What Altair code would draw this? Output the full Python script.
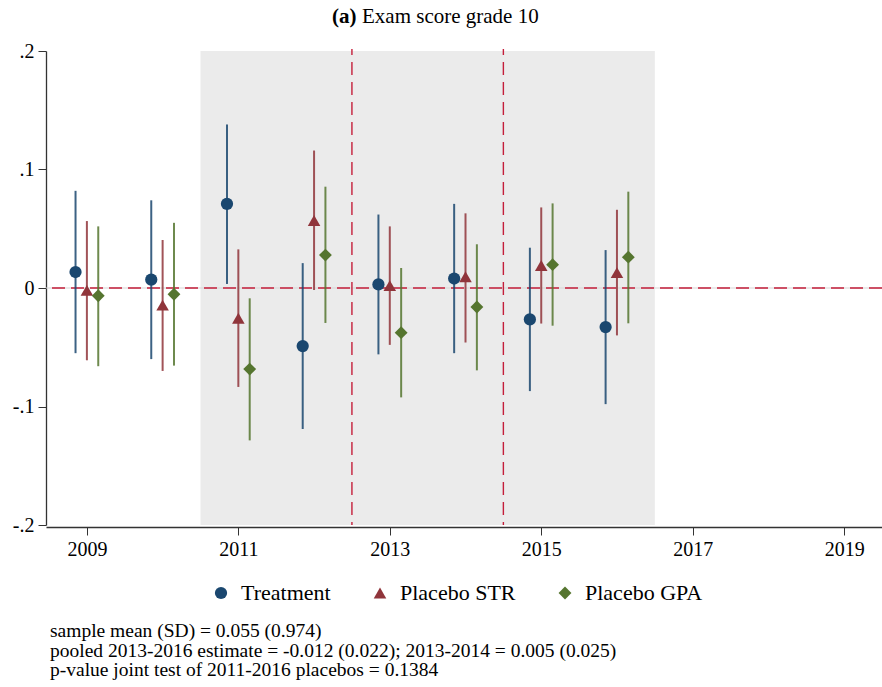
import altair as alt
import pandas as pd

# ---------------- data ----------------
years = [2009, 2010, 2011, 2012, 2013, 2014, 2015, 2016]
series_names = ["Treatment", "Placebo STR", "Placebo GPA"]
series_offsets = [-0.15, 0.0, 0.15]
series_colors = ["#1a476f", "#90353b", "#55752f"]
series_shapes = ["circle", "triangle-up", "diamond"]
series_sizes = [150, 165, 210]

treat_est = [0.0135, 0.007, 0.071, -0.049, 0.003, 0.008, -0.0265, -0.033]
treat_lo = [-0.055, -0.060, 0.0034, -0.119, -0.056, -0.055, -0.087, -0.098]
treat_hi = [0.082, 0.074, 0.138, 0.021, 0.062, 0.071, 0.034, 0.032]

str_est = [-0.002, -0.0145, -0.0255, 0.057, 0.002, 0.0095, 0.019, 0.013]
str_lo = [-0.061, -0.070, -0.0835, -0.0017, -0.048, -0.046, -0.030, -0.040]
str_hi = [0.0565, 0.0405, 0.0326, 0.116, 0.052, 0.063, 0.068, 0.066]

gpa_est = [-0.0065, -0.0053, -0.0684, 0.0278, -0.0377, -0.016, 0.0197, 0.026]
gpa_lo = [-0.066, -0.0655, -0.1286, -0.0295, -0.0923, -0.0695, -0.0318, -0.0298]
gpa_hi = [0.052, 0.055, -0.0087, 0.0855, 0.0169, 0.0369, 0.0714, 0.0813]

shade_start, shade_end = 2010.5, 2016.5
event_lines = [2012.5, 2014.5]
x_ticks = [2009, 2011, 2013, 2015, 2017, 2019]
y_ticks = [-0.2, -0.1, 0.0, 0.1, 0.2]
y_labels = ["-.2", "-.1", "0", ".1", ".2"]
x_domain = [2008.46, 2019.5]
y_domain = [-0.2, 0.2]

title_bold = "(a)"
title_text = "Exam score grade 10"
notes_lines = [
    "sample mean (SD) = 0.055 (0.974)",
    "pooled 2013-2016 estimate = -0.012 (0.022); 2013-2014 = 0.005 (0.025)",
    "p-value joint test of 2011-2016 placebos = 0.1384",
]

# ---------------- build table ----------------
rows = []
for name, off, est, lo, hi in zip(
    series_names, series_offsets,
    [treat_est, str_est, gpa_est], [treat_lo, str_lo, gpa_lo], [treat_hi, str_hi, gpa_hi]
):
    for yr, e, l, h in zip(years, est, lo, hi):
        rows.append({"series": name, "xpos": yr + off, "est": e, "lo": l, "hi": h})
df = pd.DataFrame(rows)

W, H = 836, 474
FONT = "Liberation Serif"
RED = "#c41e3a"

xscale = alt.Scale(domain=x_domain, nice=False, zero=False)
yscale = alt.Scale(domain=y_domain, nice=False, zero=False)
color_scale = alt.Scale(domain=series_names, range=series_colors)
shape_scale = alt.Scale(domain=series_names, range=series_shapes)
size_scale = alt.Scale(domain=series_names, range=series_sizes)

label_expr = " : ".join(
    f"abs(datum.value - ({v})) < 0.001 ? '{lab}'" for v, lab in zip(y_ticks, y_labels)
) + " : ''"

x_axis = alt.Axis(values=x_ticks, format="d", title=None, grid=False,
                  labelFont=FONT, labelFontSize=20, labelColor="black",
                  tickSize=8, tickColor="#333", domainColor="#333", domainWidth=1.3,
                  labelPadding=4, offset=2)
y_axis = alt.Axis(values=y_ticks, labelExpr=label_expr, title=None, grid=False,
                  labelFont=FONT, labelFontSize=20, labelColor="black",
                  tickSize=8, tickColor="#333", domainColor="#333", domainWidth=1.3,
                  labelPadding=4)

shade_df = pd.DataFrame({"x0": [shade_start], "x1": [shade_end],
                         "y0": [y_domain[0]], "y1": [y_domain[1]]})
shade = alt.Chart(shade_df).mark_rect(color="#ebebeb").encode(
    x=alt.X("x0:Q", scale=xscale, axis=x_axis),
    x2="x1:Q",
    y=alt.Y("y0:Q", scale=yscale, axis=y_axis),
    y2="y1:Q",
)

zero_df = pd.DataFrame({"y": [0.0]})
zero_gray = alt.Chart(zero_df).mark_rule(color="#d5d5d5", strokeWidth=1).encode(
    y=alt.Y("y:Q", scale=yscale)
)
zero_red = alt.Chart(zero_df).mark_rule(color=RED, strokeWidth=1.4, strokeDash=[13, 6]).encode(
    y=alt.Y("y:Q", scale=yscale)
)

vl_df = pd.DataFrame({"x": event_lines})
vlines = alt.Chart(vl_df).mark_rule(color=RED, strokeWidth=1.4, strokeDash=[13, 7],
                                     strokeDashOffset=7).encode(
    x=alt.X("x:Q", scale=xscale),
    y=alt.value(-2),
    y2=alt.value(H),
)

legend = alt.Legend(
    title=None, orient="none", direction="horizontal",
    legendX=164, legendY=531, padding=0,
    labelFont=FONT, labelFontSize=22, labelColor="black",
    labelOffset=9, columnPadding=38, symbolStrokeWidth=0,
    symbolOpacity=1,
)

ci = alt.Chart(df).mark_rule(strokeWidth=2, opacity=0.85).encode(
    x=alt.X("xpos:Q", scale=xscale),
    y=alt.Y("lo:Q", scale=yscale),
    y2="hi:Q",
    color=alt.Color("series:N", scale=color_scale, legend=legend, sort=series_names),
)

pts = alt.Chart(df).mark_point(filled=True, opacity=1).encode(
    x=alt.X("xpos:Q", scale=xscale),
    y=alt.Y("est:Q", scale=yscale),
    color=alt.Color("series:N", scale=color_scale, legend=legend, sort=series_names),
    shape=alt.Shape("series:N", scale=shape_scale, legend=legend, sort=series_names),
    size=alt.Size("series:N", scale=size_scale, legend=legend, sort=series_names),
)

one = pd.DataFrame({"k": [0]})
t_bold = alt.Chart(one).mark_text(font=FONT, fontSize=21, fontWeight="bold", align="left",
                                  baseline="alphabetic", color="black").encode(
    x=alt.value(286), y=alt.value(-28), text=alt.value(title_bold))
t_main = alt.Chart(one).mark_text(font=FONT, fontSize=21, align="left",
                                  baseline="alphabetic", color="black").encode(
    x=alt.value(316), y=alt.value(-28), text=alt.value(title_text))

note_layers = []
for i, line in enumerate(notes_lines):
    note_layers.append(
        alt.Chart(one).mark_text(font=FONT, fontSize=19.5, align="left",
                                 baseline="alphabetic", color="black").encode(
            x=alt.value(4), y=alt.value(586 + 19.5 * i), text=alt.value(line))
    )

chart = alt.layer(shade, zero_gray, zero_red, vlines, ci, pts, t_bold, t_main, *note_layers).properties(
    width=W, height=H,
    autosize=alt.AutoSizeParams(type="none"),
    padding={"left": 46, "top": 51, "right": 0, "bottom": 162},
    background="white",
).configure(font=FONT).configure_view(stroke=None).configure_legend(
    labelFont=FONT, labelFontSize=22, labelColor="black"
)

chart.save("out.html", embed_options={"renderer": "svg", "actions": False})
